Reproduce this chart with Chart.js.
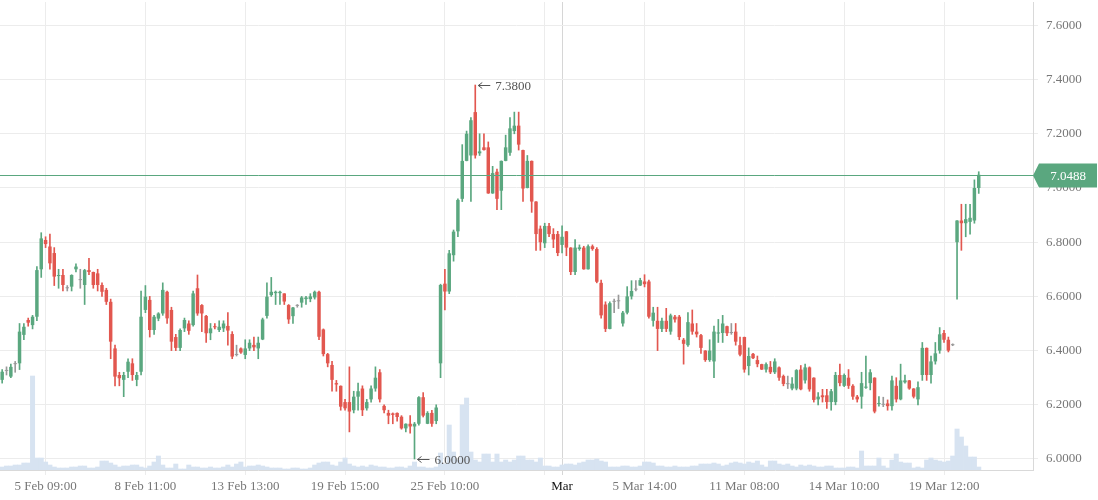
<!DOCTYPE html>
<html>
<head>
<meta charset="utf-8">
<script src="https://cdn.jsdelivr.net/npm/chart.js@4/dist/chart.umd.min.js"></script>
<style>
  html, body { margin: 0; padding: 0; background: #fff; }
  #wrap { width: 1098px; height: 500px; }
</style>
</head>
<body>
<div id="wrap"><canvas id="c" width="1098" height="500"></canvas></div>
<script>
// ---- data ----
const open = [
6.292,6.325,6.304,6.350,6.353,6.458,6.513,6.494,6.525,6.700,
6.808,6.784,6.760,6.675,6.679,6.630,6.636,6.700,6.660,6.642,
6.697,6.690,6.685,6.642,6.624,6.580,6.408,6.310,6.292,6.322,
6.353,6.292,6.322,6.550,6.587,6.476,6.518,6.537,6.617,6.550,
6.450,6.410,6.482,6.500,6.494,6.630,6.568,6.528,6.464,6.490,
6.476,6.482,6.491,6.461,6.384,6.408,6.384,6.408,6.421,6.408,
6.441,6.528,6.605,6.612,6.612,6.611,6.568,6.527,6.565,6.577,
6.590,6.590,6.596,6.617,6.478,6.387,6.347,6.280,6.270,6.210,
6.210,6.180,6.230,6.260,6.187,6.220,6.260,6.320,6.196,6.170,
6.168,6.170,6.156,6.113,6.130,6.120,6.130,6.228,6.130,6.170,
6.140,6.353,6.647,6.618,6.752,6.840,6.960,7.100,7.120,7.280,
7.128,7.150,7.150,6.980,7.060,6.990,7.100,7.130,7.210,7.230,
7.140,7.000,7.100,6.950,6.850,6.796,6.860,6.830,6.830,6.790,
6.840,6.780,6.690,6.775,6.780,6.700,6.785,6.775,6.650,6.570,
6.480,6.580,6.582,6.500,6.540,6.600,6.625,6.640,6.655,6.655,
6.510,6.510,6.480,6.510,6.470,6.525,6.525,6.440,6.420,6.500,
6.470,6.457,6.400,6.365,6.360,6.463,6.465,6.490,6.465,6.470,
6.420,6.450,6.343,6.388,6.365,6.350,6.330,6.340,6.320,6.338,
6.306,6.276,6.260,6.260,6.330,6.290,6.338,6.300,6.220,6.235,
6.235,6.210,6.210,6.310,6.270,6.300,6.270,6.230,6.230,6.263,
6.280,6.300,6.203,6.200,6.205,6.195,6.270,6.220,6.283,6.290,
6.260,6.220,6.310,6.410,6.310,6.360,6.400,6.465,6.440,6.420,
6.800,6.880,6.870,6.875,6.880,7.000
];
const high = [
6.33,6.34,6.35,6.36,6.50,6.50,6.52,6.53,6.71,6.835,
6.82,6.83,6.78,6.70,6.70,6.64,6.68,6.72,6.70,6.70,
6.74,6.69,6.70,6.65,6.63,6.59,6.42,6.32,6.32,6.37,
6.37,6.32,6.62,6.64,6.60,6.53,6.54,6.65,6.62,6.56,
6.46,6.48,6.52,6.51,6.62,6.679,6.57,6.53,6.50,6.50,
6.51,6.51,6.54,6.47,6.42,6.41,6.44,6.44,6.45,6.45,
6.52,6.65,6.67,6.62,6.62,6.61,6.57,6.56,6.57,6.60,
6.60,6.61,6.62,6.62,6.48,6.39,6.36,6.29,6.27,6.22,
6.34,6.25,6.28,6.27,6.22,6.27,6.34,6.33,6.20,6.18,
6.17,6.17,6.16,6.13,6.16,6.135,6.23,6.245,6.175,6.18,
6.20,6.645,6.70,6.77,6.845,6.96,7.16,7.21,7.26,7.38,
7.20,7.20,7.17,7.08,7.07,7.10,7.195,7.26,7.28,7.28,
7.14,7.12,7.10,6.95,6.86,6.87,6.87,6.85,6.84,6.86,
6.84,6.78,6.81,6.79,6.785,6.79,6.79,6.78,6.66,6.58,
6.58,6.59,6.605,6.545,6.636,6.658,6.658,6.667,6.68,6.66,
6.56,6.56,6.52,6.556,6.535,6.53,6.53,6.445,6.54,6.55,
6.50,6.46,6.40,6.44,6.49,6.515,6.53,6.49,6.50,6.50,
6.45,6.45,6.41,6.39,6.38,6.35,6.355,6.36,6.37,6.34,
6.31,6.306,6.30,6.33,6.345,6.35,6.34,6.30,6.245,6.257,
6.257,6.257,6.32,6.35,6.314,6.33,6.275,6.235,6.32,6.38,
6.33,6.30,6.23,6.228,6.218,6.306,6.30,6.35,6.31,6.29,
6.26,6.285,6.43,6.41,6.38,6.43,6.485,6.475,6.45,6.425,
6.88,6.94,6.94,6.94,7.03,7.06
];
const low = [
6.28,6.31,6.30,6.32,6.33,6.44,6.49,6.48,6.51,6.67,
6.78,6.70,6.64,6.63,6.62,6.62,6.62,6.69,6.63,6.57,
6.68,6.63,6.62,6.60,6.57,6.37,6.27,6.27,6.23,6.30,
6.29,6.27,6.31,6.54,6.45,6.46,6.51,6.53,6.50,6.40,
6.40,6.40,6.47,6.46,6.49,6.53,6.47,6.43,6.44,6.48,
6.47,6.47,6.42,6.37,6.38,6.39,6.37,6.40,6.40,6.37,
6.44,6.52,6.60,6.57,6.57,6.57,6.50,6.50,6.56,6.56,
6.57,6.58,6.59,6.44,6.38,6.34,6.25,6.25,6.18,6.18,
6.10,6.17,6.18,6.16,6.18,6.21,6.25,6.21,6.17,6.13,
6.13,6.14,6.11,6.10,6.095,6.000,6.125,6.155,6.13,6.12,
6.13,6.30,6.55,6.61,6.73,6.82,6.95,7.10,6.95,7.11,
7.12,7.14,6.98,6.98,6.92,6.92,7.10,7.12,7.20,7.14,
6.95,7.00,6.91,6.77,6.77,6.78,6.82,6.78,6.75,6.76,
6.75,6.68,6.68,6.77,6.70,6.70,6.77,6.65,6.52,6.47,
6.48,6.54,6.555,6.49,6.535,6.59,6.62,6.64,6.635,6.52,
6.49,6.40,6.47,6.47,6.46,6.505,6.44,6.35,6.415,6.46,
6.45,6.39,6.36,6.36,6.30,6.43,6.43,6.455,6.46,6.42,
6.38,6.32,6.31,6.37,6.34,6.33,6.32,6.315,6.315,6.29,
6.27,6.26,6.255,6.255,6.255,6.28,6.25,6.21,6.20,6.21,
6.187,6.18,6.20,6.27,6.267,6.26,6.22,6.21,6.187,6.26,
6.255,6.17,6.195,6.193,6.18,6.18,6.21,6.218,6.28,6.257,
6.225,6.20,6.29,6.29,6.28,6.35,6.39,6.43,6.395,6.418,
6.59,6.77,6.82,6.83,6.87,6.98
];
const close = [
6.322,6.325,6.340,6.350,6.470,6.488,6.503,6.525,6.697,6.814,
6.793,6.722,6.673,6.679,6.642,6.630,6.679,6.710,6.660,6.697,
6.690,6.642,6.642,6.617,6.580,6.433,6.304,6.298,6.310,6.359,
6.310,6.310,6.525,6.599,6.476,6.525,6.537,6.624,6.519,6.433,
6.410,6.476,6.513,6.473,6.611,6.537,6.537,6.464,6.482,6.486,
6.488,6.500,6.474,6.378,6.384,6.393,6.408,6.429,6.412,6.429,
6.515,6.599,6.617,6.617,6.617,6.581,6.515,6.559,6.565,6.596,
6.596,6.600,6.617,6.451,6.387,6.353,6.292,6.275,6.193,6.187,
6.175,6.230,6.250,6.180,6.210,6.260,6.300,6.220,6.180,6.160,
6.163,6.155,6.113,6.130,6.120,6.130,6.228,6.160,6.170,6.130,
6.190,6.642,6.618,6.759,6.839,6.956,7.100,7.200,7.250,7.120,
7.135,7.140,6.980,7.055,6.960,7.100,7.150,7.220,7.230,7.160,
6.998,7.100,6.950,6.830,6.800,6.860,6.830,6.810,6.760,6.820,
6.780,6.690,6.780,6.781,6.700,6.785,6.775,6.654,6.530,6.480,
6.575,6.580,6.582,6.540,6.600,6.620,6.625,6.660,6.645,6.525,
6.540,6.480,6.510,6.480,6.530,6.515,6.450,6.425,6.505,6.470,
6.460,6.410,6.365,6.400,6.470,6.467,6.500,6.464,6.465,6.433,
6.385,6.330,6.380,6.372,6.350,6.330,6.350,6.320,6.360,6.300,
6.277,6.276,6.278,6.328,6.257,6.338,6.257,6.218,6.230,6.228,
6.210,6.250,6.310,6.280,6.310,6.270,6.230,6.220,6.280,6.267,
6.320,6.175,6.206,6.200,6.195,6.290,6.220,6.290,6.290,6.260,
6.230,6.265,6.410,6.310,6.360,6.390,6.460,6.440,6.400,6.420,
6.880,6.870,6.885,6.890,7.000,7.0488
];
const volume = [
3,4,4,5,5,7,7,94,12,12,
8,5,3,2,2,2,3,3,4,4,
2,2,3,9,9,7,5,3,4,4,
5,5,3,2,4,8,14,5,2,2,
6,1,1,5,3,3,2,2,3,2,
2,3,5,3,6,8,3,4,4,5,
4,3,2,2,2,1,1,2,2,1,
1,2,5,7,8,8,5,4,8,12,
6,4,3,4,3,5,4,3,3,2,
2,3,3,2,4,8,3,3,2,2,
3,17,6,45,18,10,65,72,18,10,
8,16,16,8,16,8,10,8,10,14,
14,10,10,8,12,4,4,3,3,5,
6,6,5,7,8,10,10,11,9,8,
3,3,3,4,4,3,3,4,8,8,
7,4,4,3,3,4,3,3,3,4,
4,6,6,6,7,6,4,5,7,8,
7,6,8,7,9,5,3,9,9,6,
5,6,4,3,5,4,5,4,3,3,
4,4,2,2,2,3,3,2,19,4,
4,4,12,4,2,10,16,8,7,7,
2,3,2,10,12,10,9,8,9,14,
41,33,24,13,13,3
];
const slotCount = 238;                       // candle slots on the category axis
const tickIdx  = [10, 33, 56, 79, 102, 125, 129, 148, 171, 194, 217];
const tickText = ['5 Feb 09:00','8 Feb 11:00','13 Feb 13:00','19 Feb 15:00','25 Feb 10:00','','Mar','5 Mar 14:00','11 Mar 08:00','14 Mar 10:00','19 Mar 12:00'];
const priceTicks = [6.0, 6.2, 6.4, 6.6, 6.8, 7.0, 7.2, 7.4, 7.6];

// ---- styling ----
const UP = '#5aa77f', DOWN = '#e2574f', FLAT = '#999999';
const FONT = '"Liberation Serif", "Times New Roman", serif';
const slots = Array.from({length: slotCount}, (_, i) => 'c' + i);
const colors = open.map((o, i) => close[i] > o ? UP : (close[i] < o ? DOWN : FLAT));

const overlay = {
  id: 'overlay',
  afterDraw(chart) {
    const {ctx, chartArea, scales} = chart;
    const x = scales.x, y = scales.y;
    const last = close[close.length - 1];
    const py = Math.round(y.getPixelForValue(last)) + 0.5;
    ctx.save();
    ctx.strokeStyle = UP; ctx.lineWidth = 1;
    ctx.beginPath(); ctx.moveTo(chartArea.left, py); ctx.lineTo(chartArea.right, py); ctx.stroke();
    const bx = chartArea.right, bw = 64, bh = 24;
    ctx.fillStyle = UP;
    ctx.beginPath();
    ctx.moveTo(bx, py);
    ctx.lineTo(bx + 6, py - bh / 2);
    ctx.lineTo(bx + bw, py - bh / 2);
    ctx.lineTo(bx + bw, py + bh / 2);
    ctx.lineTo(bx + 6, py + bh / 2);
    ctx.closePath(); ctx.fill();
    ctx.fillStyle = '#fff';
    ctx.font = '13px ' + FONT;
    ctx.textAlign = 'center'; ctx.textBaseline = 'middle';
    ctx.fillText(last.toFixed(4), bx + 6 + (bw - 6) / 2, py + 1);

    // extreme markers
    let hi = 0, lo = 0;
    high.forEach((v, i) => { if (v > high[hi]) hi = i; });
    low.forEach((v, i) => { if (v < low[lo]) lo = i; });
    const mark = (idx, val) => {
      const cx = x.getPixelForValue(idx);
      const cy = Math.round(y.getPixelForValue(val)) + 0.5;
      ctx.strokeStyle = '#555'; ctx.lineWidth = 1;
      ctx.beginPath();
      ctx.moveTo(cx + 3, cy); ctx.lineTo(cx + 15, cy);
      ctx.moveTo(cx + 7, cy - 3); ctx.lineTo(cx + 3, cy); ctx.lineTo(cx + 7, cy + 3);
      ctx.stroke();
      ctx.fillStyle = '#555';
      ctx.textAlign = 'left'; ctx.textBaseline = 'middle';
      ctx.fillText(val.toFixed(4), cx + 20, cy + 1);
    };
    mark(hi, high[hi]);
    mark(lo, low[lo]);
    ctx.restore();
  }
};

new Chart(document.getElementById('c'), {
  type: 'bar',
  data: {
    labels: slots,
    datasets: [
      {
        label: 'body',
        data: open.map((o, i) => [o, close[i]]),
        backgroundColor: colors,
        borderWidth: 0,
        barPercentage: 0.8,
        categoryPercentage: 1,
        minBarLength: 1,
        grouped: false,
        order: 1,
        yAxisID: 'y'
      },
      {
        label: 'wick',
        data: low.map((l, i) => [l, high[i]]),
        backgroundColor: colors,
        borderWidth: 0,
        barThickness: 1,
        grouped: false,
        order: 2,
        yAxisID: 'y'
      },
      {
        label: 'volume',
        data: volume,
        backgroundColor: '#d7e3f1',
        borderWidth: 0,
        barPercentage: 1,
        categoryPercentage: 1,
        grouped: false,
        order: 3,
        yAxisID: 'yv'
      }
    ]
  },
  options: {
    responsive: false,
    animation: false,
    devicePixelRatio: 1,
    layout: { padding: { top: 2, left: 0, right: 0, bottom: 0 } },
    plugins: { legend: { display: false }, tooltip: { enabled: false } },
    scales: {
      x: {
        type: 'category',
        offset: true,
        afterBuildTicks: s => { s.ticks = tickIdx.map(v => ({ value: v })); },
        afterFit: s => { s.height = 30; s.paddingLeft = 0; s.paddingRight = 0; },
        grid: {
          offset: false,
          color: c => (c.tick && c.tick.value === 129) ? '#d6d6d6' : '#ececec',
          tickLength: 5
        },
        border: { display: true, color: '#d9d9d9' },
        ticks: {
          autoSkip: false,
          maxRotation: 0,
          padding: 4,
          font: { family: FONT, size: 13 },
          color: c => (c.tick && c.tick.value === 129) ? '#111' : '#777',
          callback: (v, i) => tickText[i]
        }
      },
      y: {
        position: 'right',
        min: 5.9594,
        max: 7.6863,
        afterBuildTicks: s => { s.ticks = priceTicks.map(v => ({ value: v })); },
        afterFit: s => { s.width = 65; s.paddingTop = 0; s.paddingBottom = 0; },
        grid: { color: '#ececec', tickLength: 5 },
        border: { display: true, color: '#d9d9d9' },
        ticks: {
          padding: 8,
          font: { family: FONT, size: 13 },
          color: '#777',
          callback: v => Number(v).toFixed(4)
        }
      },
      yv: {
        display: false,
        min: 0,
        max: 468,
        afterFit: s => { s.paddingTop = 0; s.paddingBottom = 0; }
      }
    }
  },
  plugins: [overlay]
});
</script>
</body>
</html>
